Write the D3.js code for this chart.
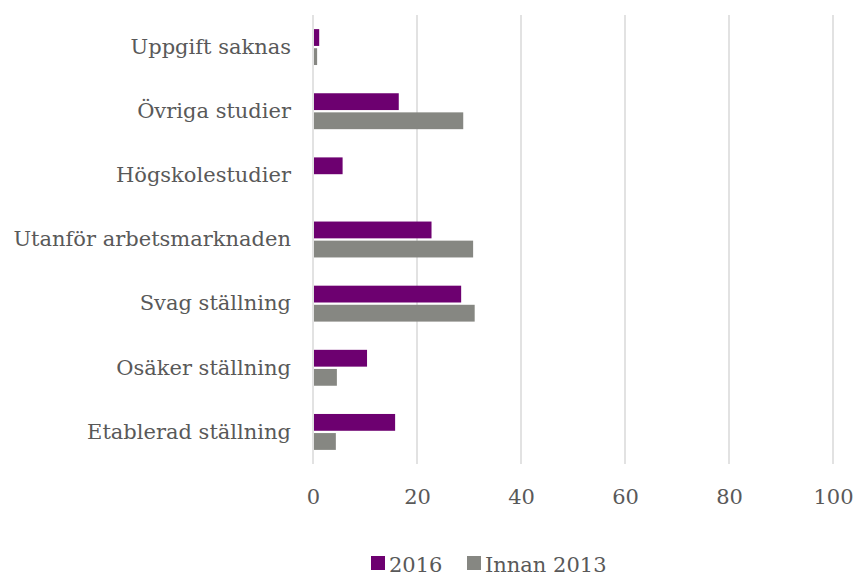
<!DOCTYPE html>
<html lang="sv">
<head>
<meta charset="UTF-8">
<title>Chart</title>
<script src="https://d3js.org/d3.v7.min.js"></script>
<style>
  body { margin: 0; background: white; }
  text { font-family: "DejaVu Serif", "Liberation Serif", serif; fill: #595959; }
</style>
</head>
<body>
<div id="chart"></div>
<script>
// data
const categories = ["Uppgift saknas", "Övriga studier", "Högskolestudier",
  "Utanför arbetsmarknaden", "Svag ställning", "Osäker ställning", "Etablerad ställning"];
const series = ["2016", "Innan 2013"];
const values2016 = [1.0, 16.3, 5.5, 22.6, 28.3, 10.2, 15.6];
const valuesInnan = [0.6, 28.7, 0, 30.6, 30.9, 4.4, 4.2];
const xTicks = [0, 20, 40, 60, 80, 100];
const colors = ["#6d0070", "#868782"];

const width = 855, height = 576;
const margin = { top: 15, right: 22, bottom: 112, left: 313 };
const fontSize = 21;

const svg = d3.select("#chart").append("svg")
  .attr("width", width).attr("height", height);

const x = d3.scaleLinear().domain([0, 100])
  .range([margin.left, width - margin.right]);
const y = d3.scaleBand().domain(categories)
  .range([margin.top, height - margin.bottom]).paddingInner(0.44).paddingOuter(0.22);
const inner = d3.scaleBand().domain(series).range([0, y.bandwidth()]).paddingInner(0.12);

// gridlines
svg.append("g").selectAll("line").data(xTicks).join("line")
  .attr("x1", d => x(d)).attr("x2", d => x(d))
  .attr("y1", margin.top).attr("y2", height - margin.bottom)
  .attr("stroke", "#d9d9d9").attr("stroke-width", 1.5);

// x axis labels
const xAxis = d3.axisBottom(x).tickValues(xTicks).tickSize(0).tickPadding(25);
const gx = svg.append("g")
  .attr("transform", `translate(0,${height - margin.bottom})`)
  .call(xAxis);
gx.select(".domain").remove();
gx.selectAll("text").attr("font-size", fontSize).attr("font-family", null);

// y axis labels
const yAxis = d3.axisLeft(y).tickSize(0).tickPadding(22);
const gy = svg.append("g")
  .attr("transform", `translate(${margin.left},0)`)
  .call(yAxis);
gy.select(".domain").remove();
gy.selectAll("text").attr("font-size", fontSize).attr("font-family", null);

// bars
const rows = categories.map((c, i) => ({ cat: c, vals: [values2016[i], valuesInnan[i]] }));
const grp = svg.append("g").selectAll("g").data(rows).join("g")
  .attr("transform", d => `translate(0,${y(d.cat)})`);
grp.selectAll("rect").data(d => d.vals.map((v, j) => ({ s: series[j], v, j })))
  .join("rect")
  .attr("x", x(0) + 1)
  .attr("y", d => inner(d.s))
  .attr("width", d => Math.max(0, x(d.v) - x(0)))
  .attr("height", inner.bandwidth())
  .attr("fill", d => colors[d.j]);

// legend
const legend = svg.append("g").attr("transform", "translate(371,556)");
const items = [{ s: series[0], c: colors[0], dx: 0 }, { s: series[1], c: colors[1], dx: 96 }];
const li = legend.selectAll("g").data(items).join("g")
  .attr("transform", d => `translate(${d.dx},0)`);
li.append("rect").attr("width", 14).attr("height", 14).attr("fill", d => d.c);
li.append("text").attr("x", 18).attr("y", 16).attr("font-size", fontSize).text(d => d.s);
</script>
</body>
</html>
